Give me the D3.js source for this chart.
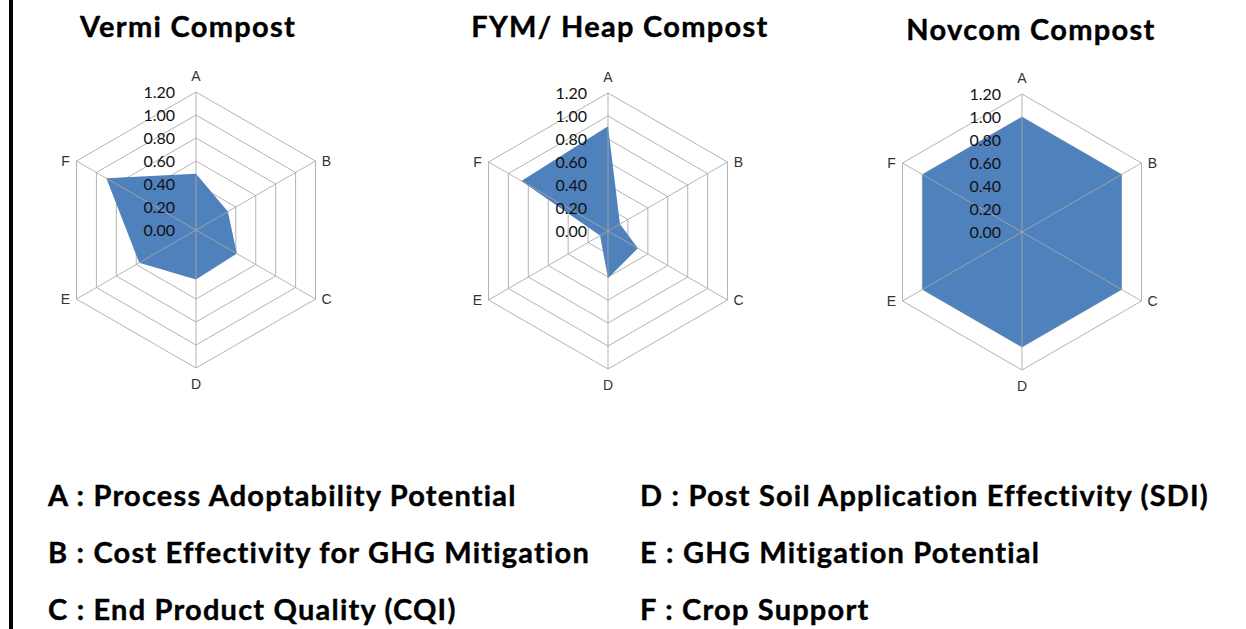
<!DOCTYPE html>
<html>
<head>
<meta charset="utf-8">
<script src="https://cdn.jsdelivr.net/npm/d3@7"></script>
<style>
  body { margin: 0; background: #fff; }
  svg { display: block; }
  .title { font-family: Lato, "Open Sans", sans-serif; font-weight: 700; fill: #000; stroke: #000; stroke-width: 0.4px; letter-spacing: 1.3px; }
  .legend { font-family: Lato, "Open Sans", sans-serif; font-weight: 700; fill: #000; stroke: #000; stroke-width: 0.4px; letter-spacing: 1.2px; }
  .tick { font-family: Lato, "Liberation Sans", sans-serif; font-size: 16px; fill: #111; }
  .axisLabel { font-family: "Liberation Sans", sans-serif; font-size: 14px; fill: #333; }
</style>
</head>
<body>
<svg width="1246" height="629"></svg>
<script>
// categories (axes of each radar)
var axes = ["A", "B", "C", "D", "E", "F"];

// values, one list per compost
var vermi = [0.49, 0.32, 0.41, 0.43, 0.57, 0.90];
var fym = [0.91, 0.12, 0.30, 0.41, 0.08, 0.87];
var novcom = [1.00, 1.00, 1.00, 1.00, 1.00, 1.00];

var titles = ["Vermi Compost", "FYM/ Heap Compost", "Novcom Compost"];
var tickValues = [0, 0.2, 0.4, 0.6, 0.8, 1.0, 1.2];

var legendLeft = ["A : Process Adoptability Potential",
    "B : Cost Effectivity for GHG Mitigation",
    "C : End Product Quality (CQI)"];
var legendRight = ["D : Post Soil Application Effectivity (SDI)",
    "E : GHG Mitigation Potential",
    "F : Crop Support"];

var series = [vermi, fym, novcom];

var svg = d3.select("svg");

// left black border line
svg.append("rect")
    .attr("x", 9)
    .attr("y", 0)
    .attr("width", 4)
    .attr("height", 629)
    .attr("fill", "#000");

var radius = 138;
var cxs = [196, 608, 1022],
    cys = [230, 231, 232];
var titleX = [188, 620, 1031],
    titleY = [37, 37, 40];

var r = d3.scaleLinear()
    .domain([0, 1.2])
    .range([0, radius]);

var angle = d3.scaleLinear()
    .domain([0, axes.length])
    .range([0, 2 * Math.PI]);

function pt(i, v) {
    var a = angle(i);
    return [r(v) * Math.sin(a), -r(v) * Math.cos(a)];
}

var ringLine = d3.line();

series.forEach(function(values, k) {
    var g = svg.append("g")
        .attr("transform", "translate(" + cxs[k] + "," + cys[k] + ")");

    // rings
    g.selectAll(".ring")
        .data(tickValues.slice(1))
        .enter().append("path")
        .attr("class", "ring")
        .attr("d", function(t) {
            return ringLine(axes.map(function(a, i) { return pt(i, t); })) + "Z";
        })
        .attr("fill", "none")
        .attr("stroke", "#b4b4b4")
        .attr("stroke-width", 1);

    // filled area
    g.append("path")
        .datum(values)
        .attr("d", function(d) {
            return ringLine(d.map(function(v, i) { return pt(i, v); })) + "Z";
        })
        .attr("fill", "#4f81bd");

    // spokes on top of the fill
    g.selectAll(".spoke")
        .data(axes)
        .enter().append("line")
        .attr("class", "spoke")
        .attr("x1", 0)
        .attr("y1", 0)
        .attr("x2", function(d, i) { return pt(i, 1.2)[0]; })
        .attr("y2", function(d, i) { return pt(i, 1.2)[1]; })
        .attr("stroke", "#a8a8a8")
        .attr("stroke-opacity", 0.85)
        .attr("stroke-width", 1);

    // axis letters
    g.selectAll(".axisLabel")
        .data(axes)
        .enter().append("text")
        .attr("class", "axisLabel")
        .attr("x", function(d, i) {
            var p = pt(i, 1.2);
            if (i == 0 || i == 3) return p[0];
            return p[0] + (p[0] > 0 ? 11 : -11);
        })
        .attr("y", function(d, i) {
            var p = pt(i, 1.2);
            if (i == 0) return p[1] - 16;
            if (i == 3) return p[1] + 16;
            return p[1];
        })
        .attr("dy", "0.36em")
        .attr("text-anchor", "middle")
        .text(function(d) { return d; });

    // tick labels
    g.selectAll(".tick")
        .data(tickValues)
        .enter().append("text")
        .attr("class", "tick")
        .attr("x", -21)
        .attr("y", function(t) { return -r(t); })
        .attr("dy", "0.36em")
        .attr("text-anchor", "end")
        .text(function(t) { return t.toFixed(2); });

    svg.append("text")
        .attr("class", "title")
        .attr("x", titleX[k])
        .attr("y", titleY[k])
        .attr("text-anchor", "middle")
        .style("font-size", "29px")
        .text(titles[k]);
});

// legend
var rowsY = [506, 563, 620];
svg.selectAll(".legL")
    .data(legendLeft)
    .enter().append("text")
    .attr("class", "legend")
    .attr("x", 48)
    .attr("y", function(d, i) { return rowsY[i]; })
    .style("font-size", "29px")
    .text(function(d) { return d; });

svg.selectAll(".legR")
    .data(legendRight)
    .enter().append("text")
    .attr("class", "legend")
    .attr("x", 640)
    .attr("y", function(d, i) { return rowsY[i]; })
    .style("font-size", "29px")
    .text(function(d) { return d; });
</script>
</body>
</html>
